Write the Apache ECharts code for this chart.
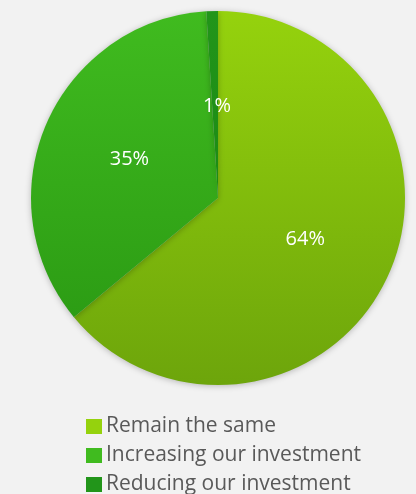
<!DOCTYPE html>
<html>
<head>
<meta charset="utf-8">
<script src="https://cdn.jsdelivr.net/npm/echarts@6/dist/echarts.min.js"></script>
<style>
html,body{margin:0;padding:0;background:#f2f2f2;}
#c{width:416px;height:494px;}
</style>
</head>
<body>
<div id="c"></div>
<script>
const categories = ['Remain the same', 'Increasing our investment', 'Reducing our investment'];
const values = [64, 35, 1];
const labels = ['64%', '35%', '1%'];

function grad(top, bottom) {
  return new echarts.graphic.LinearGradient(0, 12, 0, 385, [
    { offset: 0, color: top },
    { offset: 1, color: bottom }
  ], true);
}
const colors = [
  grad('#95d20d', '#6da50b'),
  grad('#40bb1f', '#289612'),
  grad('#22951a', '#16800e')
];
const labelOffsets = [[0, 0], [0, 0], [2, 5]];
const legendTops = [416, 445, 474];

const chart = echarts.init(document.getElementById('c'), null, { renderer: 'canvas' });
chart.setOption({
  backgroundColor: '#f2f2f2',
  animation: false,
  legend: categories.map((c, i) => ({
    orient: 'vertical',
    left: 86,
    top: legendTops[i],
    padding: 0,
    itemWidth: 16,
    itemHeight: 15,
    icon: 'rect',
    textStyle: { fontFamily: 'Open Sans', fontSize: 21, color: '#595959', padding: [0, 0, 0, -1] },
    data: [c]
  })),
  series: [{
    type: 'pie',
    center: [218, 198],
    radius: [0, 187],
    startAngle: 90,
    clockwise: true,
    label: {
      position: 'inner',
      color: '#ffffff',
      fontFamily: 'Open Sans',
      fontSize: 20,
      formatter: p => labels[p.dataIndex]
    },
    labelLine: { show: false },
    itemStyle: {
      borderWidth: 0,
      shadowBlur: 6,
      shadowColor: 'rgba(0,0,0,0.25)',
      shadowOffsetY: 1
    },
    emphasis: { disabled: true },
    data: categories.map((c, i) => ({
      name: c, value: values[i],
      itemStyle: { color: colors[i] },
      label: { offset: labelOffsets[i] }
    }))
  }]
});
</script>
</body>
</html>
